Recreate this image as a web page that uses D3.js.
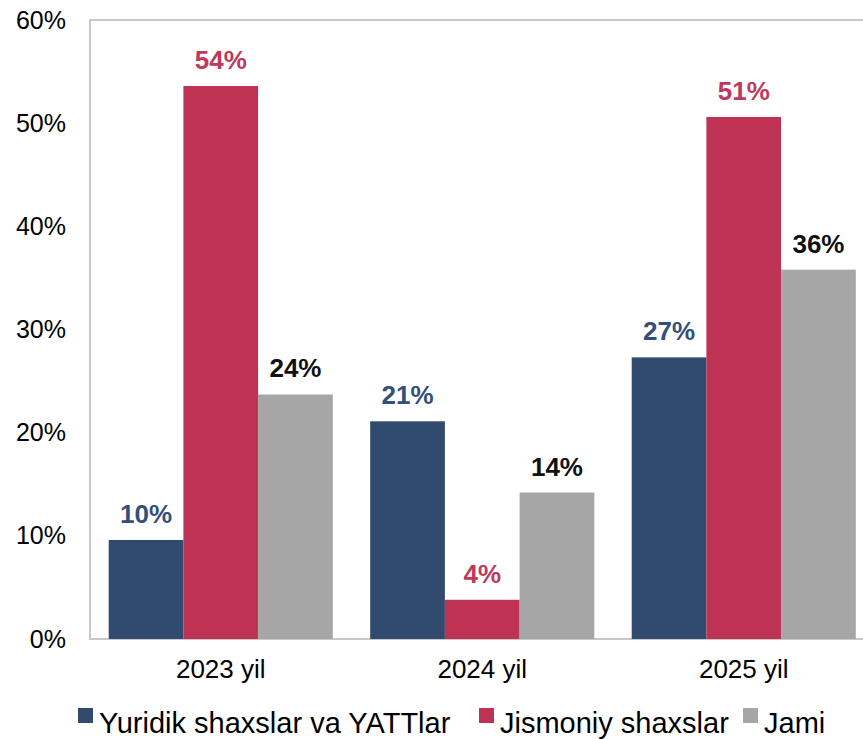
<!DOCTYPE html>
<html>
<head>
<meta charset="utf-8">
<script src="https://cdn.jsdelivr.net/npm/d3@7"></script>
<style>
  body { margin: 0; background: #fff; }
  svg { display: block; font-family: Arial, "Liberation Sans", sans-serif; }
</style>
</head>
<body>
<div id="chart"></div>
<script>
const years = ["2023 yil", "2024 yil", "2025 yil"];
const seriesNames = ["Yuridik shaxslar va YATTlar", "Jismoniy shaxslar", "Jami"];
const yuridik = [0.096, 0.211, 0.273];
const jismoniy = [0.536, 0.038, 0.506];
const jami = [0.237, 0.142, 0.358];
const yTicks = [0, 0.1, 0.2, 0.3, 0.4, 0.5, 0.6];

const barColors = ["#314b6e", "#be3353", "#a6a6a6"];
const labelColors = ["#34507a", "#c0395a", "#111"];

const width = 863, height = 739;
const plotLeft = 90, plotTop = 20, plotBottom = 639;

const svg = d3.select("#chart").append("svg")
    .attr("width", width)
    .attr("height", height);

const x = d3.scaleBand()
    .domain(years)
    .range([plotLeft, plotLeft + 784.5])
    .paddingInner(0.143)
    .paddingOuter(0.0715);

const xs = d3.scaleBand()
    .domain(seriesNames)
    .range([0, x.bandwidth()]);

const y = d3.scaleLinear()
    .domain([0, 0.6])
    .range([plotBottom, plotTop]);

// frame
svg.append("path")
    .attr("d", `M${width},${plotTop}H${plotLeft}V${plotBottom}H${width}`)
    .attr("fill", "none")
    .attr("stroke", "#c8c8c8")
    .attr("stroke-width", 2);

// y axis labels
const yAxis = svg.append("g")
    .attr("transform", `translate(${plotLeft},0)`)
    .call(d3.axisLeft(y).tickValues(yTicks).tickFormat(d3.format(".0%")).tickSize(0).tickPadding(24));
yAxis.select(".domain").remove();
yAxis.selectAll("text").attr("font-size", 25).attr("fill", "#000").attr("font-family", "Arial, 'Liberation Sans', sans-serif");

// x axis labels
const xAxis = svg.append("g")
    .attr("transform", `translate(0,${plotBottom})`)
    .call(d3.axisBottom(x).tickSize(0).tickPadding(21));
xAxis.select(".domain").remove();
xAxis.selectAll("text").attr("font-size", 26).attr("fill", "#000").attr("font-family", "Arial, 'Liberation Sans', sans-serif");

const data = [yuridik, jismoniy, jami];
const rows = [];
years.forEach((yr, i) => {
    seriesNames.forEach((s, j) => {
        rows.push({ year: yr, series: s, idx: j, value: data[j][i] });
    });
});

svg.append("g").selectAll("rect")
    .data(rows)
    .join("rect")
    .attr("x", d => x(d.year) + xs(d.series))
    .attr("y", d => y(d.value))
    .attr("width", xs.bandwidth())
    .attr("height", d => plotBottom - y(d.value))
    .attr("fill", d => barColors[d.idx]);

svg.append("g").selectAll("text")
    .data(rows)
    .join("text")
    .attr("x", d => x(d.year) + xs(d.series) + xs.bandwidth() / 2)
    .attr("y", d => y(d.value) - 17)
    .attr("text-anchor", "middle")
    .attr("font-size", 26)
    .attr("font-weight", "bold")
    .attr("fill", d => labelColors[d.idx])
    .text(d => d3.format(".0%")(d.value));

// legend
const legendX = [78, 479, 743];
const legend = svg.append("g");
seriesNames.forEach((s, j) => {
    legend.append("rect")
        .attr("x", legendX[j])
        .attr("y", 708)
        .attr("width", 15)
        .attr("height", 15)
        .attr("fill", barColors[j]);
    legend.append("text")
        .attr("x", legendX[j] + 21)
        .attr("y", 733)
        .attr("font-size", 29)
        .attr("fill", "#000")
        .text(s);
});
</script>
</body>
</html>
